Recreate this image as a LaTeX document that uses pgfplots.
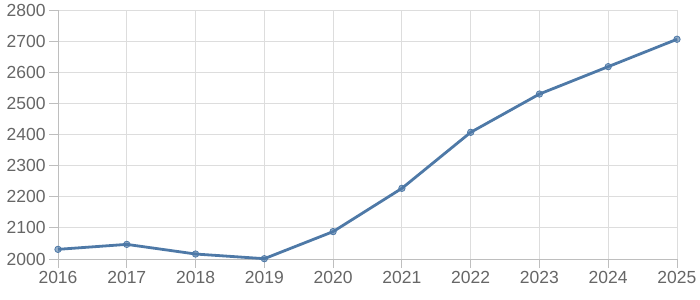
\documentclass[border=0pt]{standalone}
\usepackage{fontspec}
\setmainfont{Liberation Sans}
\usepackage{pgfplots}
\pgfplotsset{compat=1.18}
\definecolor{linec}{RGB}{78,121,167}
\definecolor{gridc}{RGB}{221,221,221}
\definecolor{axisc}{RGB}{190,190,190}
\definecolor{textc}{RGB}{102,102,102}
\begin{document}
\begin{tikzpicture}
\begin{axis}[
  at={(0,0)}, anchor=south west,
  scale only axis,
  width=619bp, height=249bp,
  xmin=2016, xmax=2025, ymin=2000, ymax=2800,
  xtick={2016,...,2025}, ytick={2000,2100,...,2800},
  /pgf/number format/assume math mode=true,
  xticklabel style={/pgf/number format/1000 sep={}, font=\fontsize{17.5bp}{20bp}\selectfont, text=textc},
  yticklabel style={/pgf/number format/1000 sep={}, font=\fontsize{17.5bp}{20bp}\selectfont, text=textc},
  grid=major,
  major grid style={gridc, line width=0.8bp},
  axis x line*=bottom, axis y line*=left,
  axis line style={axisc, line width=0.8bp},
  tick style={axisc, line width=0.8bp},
  tick align=outside,
  major tick length=9bp,
  x axis line style={-}, y axis line style={-},
  clip=false,
]
\addplot[linec, line width=2.8bp, mark=*, mark size=3.2bp,
  mark options={fill=linec, fill opacity=0.6, draw=linec, line width=0.8bp}]
coordinates {
(2016,2031) (2017,2047) (2018,2016) (2019,2001) (2020,2088)
(2021,2227) (2022,2407) (2023,2530) (2024,2618) (2025,2706)
};
\end{axis}
\useasboundingbox (-58bp,-41bp) rectangle (642bp,259bp);
\end{tikzpicture}
\end{document}
